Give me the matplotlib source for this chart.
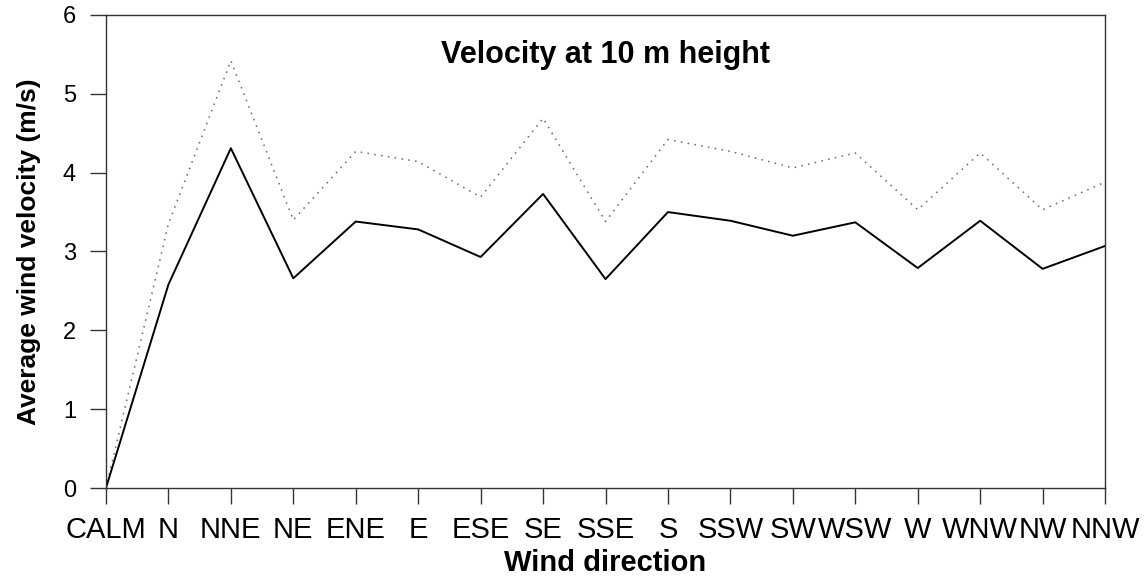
import matplotlib
matplotlib.use("Agg")
import matplotlib.pyplot as plt

plt.rcParams['font.family'] = ['Liberation Sans', 'DejaVu Sans']

directions = ["CALM", "N", "NNE", "NE", "ENE", "E", "ESE", "SE", "SSE",
              "S", "SSW", "SW", "WSW", "W", "WNW", "NW", "NNW"]
# solid line
velocity_a = [0.0, 2.58, 4.31, 2.66, 3.38, 3.28, 2.93, 3.73, 2.65,
              3.50, 3.39, 3.20, 3.37, 2.79, 3.39, 2.78, 3.07]
# dotted line
velocity_b = [0.0, 3.35, 5.42, 3.40, 4.27, 4.14, 3.69, 4.69, 3.38,
              4.42, 4.27, 4.06, 4.25, 3.53, 4.25, 3.53, 3.88]
y_ticks = [0, 1, 2, 3, 4, 5, 6]

fig = plt.figure(figsize=(11.48, 5.85), dpi=100)
ax = fig.add_axes([0.0923, 0.1658, 0.8703, 0.8086])

x = list(range(len(directions)))
ax.plot(x, velocity_b, color="#666666", linestyle=(0, (1, 3.5)), linewidth=1.1)
ax.plot(x, velocity_a, color="black", linewidth=1.4)

ax.set_xlim(0, len(directions) - 1)
ax.set_ylim(0, 6)
ax.set_xticks(x)
ax.set_xticklabels(directions, fontsize=21)
ax.set_yticks(y_ticks)

for s in ax.spines.values():
    s.set_color("#333333")
    s.set_linewidth(1.0)

ax.tick_params(axis="both", direction="out", length=11.5, width=1.0,
               color="#333333")
ax.tick_params(axis="x", pad=9)
ax.tick_params(axis="y", pad=10, labelsize=17)

ax.set_xlabel("Wind direction", fontsize=21, fontweight="bold", labelpad=3)
ax.set_ylabel("Average wind velocity (m/s)", fontsize=19, fontweight="bold", labelpad=16)
ax.text(0.5, 0.915, "Velocity at 10 m height", transform=ax.transAxes,
        ha="center", va="center", fontsize=22, fontweight="bold")

fig.savefig("out.png", dpi=100)
